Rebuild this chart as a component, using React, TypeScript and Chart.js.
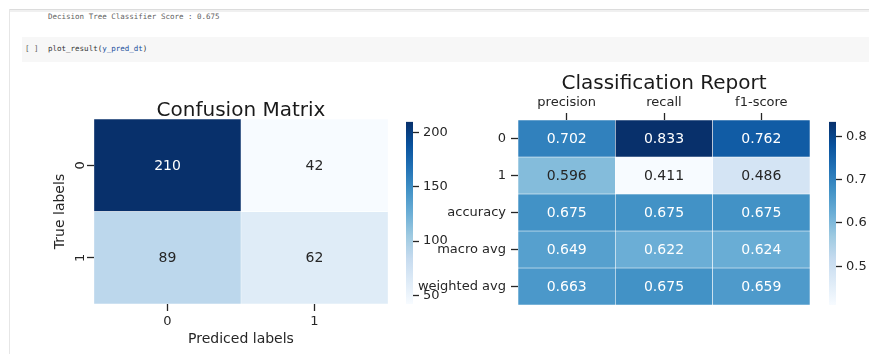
import React, { useEffect, useRef } from 'react';
import { Chart, registerables } from 'chart.js';

Chart.register(...registerables);

// ---------------- data ----------------
const cmRowLabels = ['0', '1'];
const cmColLabels = ['0', '1'];
const cmRow0 = [210, 42];
const cmRow1 = [89, 62];
const cmColorbarTicks = [50, 100, 150, 200];

const crRowLabels = ['0', '1', 'accuracy', 'macro avg', 'weighted avg'];
const crColLabels = ['precision', 'recall', 'f1-score'];
const crRow0 = [0.702, 0.833, 0.762];
const crRow1 = [0.596, 0.411, 0.486];
const crAccuracy = [0.675, 0.675, 0.675];
const crMacroAvg = [0.649, 0.622, 0.624];
const crWeightedAvg = [0.663, 0.675, 0.659];
const crColorbarTicks = [0.5, 0.6, 0.7, 0.8];

// ---------------- styling helpers ----------------
const FONT = "'DejaVu Sans', 'Noto Sans', sans-serif";
const TXT = '#262626';
const BLUES = ['#f7fbff', '#deebf7', '#c6dbef', '#9ecae1', '#6baed6', '#4292c6', '#2171b5', '#08519c', '#08306b'];

function hexToRgb(h: string): number[] {
  const n = parseInt(h.slice(1), 16);
  return [(n >> 16) & 255, (n >> 8) & 255, n & 255];
}
function bluesRgb(t: number): number[] {
  const tt = Math.max(0, Math.min(1, t));
  const p = tt * 8;
  const i = Math.min(7, Math.floor(p));
  const f = p - i;
  const a = hexToRgb(BLUES[i]);
  const b = hexToRgb(BLUES[i + 1]);
  return a.map((v, k) => Math.round(v + (b[k] - v) * f));
}
function rgbStr(c: number[]) {
  return `rgb(${c[0]},${c[1]},${c[2]})`;
}
function luminance(c: number[]) {
  const l = c.map((v) => {
    const s = v / 255;
    return s <= 0.03928 ? s / 12.92 : Math.pow((s + 0.055) / 1.055, 2.4);
  });
  return 0.2126 * l[0] + 0.7152 * l[1] + 0.0722 * l[2];
}

type Box = { left: number; top: number; width: number; height: number };
type Area = { left: number; top: number; right: number; bottom: number };

type HeatProps = {
  rows: string[];
  cols: string[];
  values: number[][];
  fmt: (v: number) => string;
  title: string;
  titleBaseline: number; // page y
  xPos: 'top' | 'bottom';
  xTitle?: string;
  yTitle?: string;
  rotateY: boolean;
  box: Box;
  area: Area;
  lineW: number;
};

function Heatmap(p: HeatProps) {
  const ref = useRef<HTMLCanvasElement>(null);
  useEffect(() => {
    const { rows, cols, values, fmt, box, area, xPos } = p;
    const flat = values.flat();
    const vmin = Math.min(...flat);
    const vmax = Math.max(...flat);
    const colorOf = (v: number) => bluesRgb((v - vmin) / (vmax - vmin));
    const yAxisW = area.left - box.left;
    let padTop: number, padBottom: number, xAxisH: number;
    if (xPos === 'bottom') {
      padTop = area.top - box.top;
      xAxisH = box.top + box.height - area.bottom;
      padBottom = 0;
    } else {
      xAxisH = 30;
      padTop = area.top - box.top - xAxisH;
      padBottom = box.top + box.height - area.bottom;
    }
    const padRight = box.left + box.width - area.right;

    const datasets = rows.map((r, ri) => ({
      label: r,
      data: cols.map(() => [ri, ri + 1]),
      backgroundColor: cols.map((_, ci) => rgbStr(colorOf(values[ri][ci]))),
      borderColor: 'rgba(255,255,255,0.85)',
      borderWidth: p.lineW,
      borderSkipped: false,
      barPercentage: 1,
      categoryPercentage: 1,
      grouped: false,
    }));

    const annot = {
      id: 'annot',
      afterDatasetsDraw(chart: any) {
        const ctx = chart.ctx;
        ctx.save();
        ctx.font = `14px ${FONT}`;
        ctx.textAlign = 'center';
        ctx.textBaseline = 'middle';
        rows.forEach((_, ri) => {
          const meta = chart.getDatasetMeta(ri);
          meta.data.forEach((bar: any, ci: number) => {
            const { x, y, base } = bar.getProps(['x', 'y', 'base'], true);
            const v = values[ri][ci];
            const c = colorOf(v);
            ctx.fillStyle = luminance(c) > 0.408 ? TXT : '#ffffff';
            ctx.fillText(fmt(v), x, (y + base) / 2 + 1);
          });
        });
        ctx.restore();
      },
      afterDraw(chart: any) {
        const ctx = chart.ctx;
        const ca = chart.chartArea;
        ctx.save();
        ctx.font = `20px ${FONT}`;
        ctx.fillStyle = '#1a1a1a';
        ctx.textAlign = 'center';
        ctx.textBaseline = 'alphabetic';
        ctx.fillText(p.title, (ca.left + ca.right) / 2, p.titleBaseline - box.top);
        if (p.rotateY) {
          const ys = chart.scales.y;
          ctx.font = `13px ${FONT}`;
          ctx.fillStyle = TXT;
          rows.forEach((r, ri) => {
            const py = ys.getPixelForValue(ri + 0.5);
            ctx.save();
            ctx.translate(ca.left - 10, py);
            ctx.rotate(-Math.PI / 2);
            ctx.textAlign = 'center';
            ctx.textBaseline = 'alphabetic';
            ctx.fillText(r, 0, 0);
            ctx.restore();
          });
        }
        ctx.restore();
      },
    };

    const chart = new Chart(ref.current as HTMLCanvasElement, {
      type: 'bar',
      data: { labels: cols, datasets: datasets as any },
      options: {
        responsive: false,
        animation: false,
        events: [],
        layout: { padding: { left: 0, top: padTop, right: padRight, bottom: padBottom } },
        plugins: { legend: { display: false }, tooltip: { enabled: false }, title: { display: false } },
        scales: {
          x: {
            type: 'category',
            position: xPos,
            offset: true,
            grid: {
              offset: false,
              drawOnChartArea: false,
              drawTicks: true,
              tickLength: 7,
              tickWidth: 1.3,
              tickColor: TXT,
            },
            border: { display: false },
            ticks: {
              color: TXT,
              font: { family: FONT, size: 13 },
              padding: 3,
              autoSkip: false,
              maxRotation: 0,
              minRotation: 0,
            },
            title: p.xTitle
              ? {
                  display: true,
                  text: p.xTitle,
                  color: TXT,
                  font: { family: FONT, size: 14 },
                  padding: { top: 0, bottom: 6.6 },
                }
              : { display: false },
            afterFit: (s: any) => {
              s.height = xAxisH;
            },
          },
          y: {
            type: 'linear',
            min: 0,
            max: rows.length,
            reverse: true,
            afterBuildTicks: (s: any) => {
              s.ticks = rows.map((_, i) => ({ value: i + 0.5 }));
            },
            grid: {
              drawOnChartArea: false,
              drawTicks: true,
              tickLength: 7,
              tickWidth: 1.3,
              tickColor: TXT,
            },
            border: { display: false },
            ticks: {
              color: TXT,
              font: { family: FONT, size: 13 },
              padding: 5,
              autoSkip: false,
              callback: (v: any) => (p.rotateY ? '' : rows[Math.floor(Number(v))]),
            },
            title: p.yTitle
              ? {
                  display: true,
                  text: p.yTitle,
                  color: TXT,
                  font: { family: FONT, size: 14 },
                  padding: { top: 21.6, bottom: 0 },
                }
              : { display: false },
            afterFit: (s: any) => {
              s.width = yAxisW;
            },
          },
        },
      } as any,
      plugins: [annot],
    });
    return () => chart.destroy();
  }, []);
  return (
    <canvas
      ref={ref}
      width={p.box.width}
      height={p.box.height}
      style={{ position: 'absolute', left: p.box.left, top: p.box.top, width: p.box.width, height: p.box.height }}
    />
  );
}

type CbProps = {
  values: number[][];
  ticks: number[];
  fmt: (v: number) => string;
  box: Box;
  area: Area;
};

function Colorbar(p: CbProps) {
  const ref = useRef<HTMLCanvasElement>(null);
  useEffect(() => {
    const { box, area } = p;
    const flat = p.values.flat();
    const vmin = Math.min(...flat);
    const vmax = Math.max(...flat);
    const axisW = box.left + box.width - area.right;
    const chart = new Chart(ref.current as HTMLCanvasElement, {
      type: 'bar',
      data: {
        labels: [''],
        datasets: [
          {
            data: [[vmin, vmax]],
            backgroundColor: (c: any) => {
              const ca = c.chart.chartArea;
              if (!ca) return BLUES[4];
              const g = c.chart.ctx.createLinearGradient(0, ca.bottom, 0, ca.top);
              BLUES.forEach((col, i) => g.addColorStop(i / 8, col));
              return g;
            },
            borderWidth: 0,
            barPercentage: 1,
            categoryPercentage: 1,
          },
        ],
      } as any,
      options: {
        responsive: false,
        animation: false,
        events: [],
        layout: {
          padding: {
            left: area.left - box.left,
            top: area.top - box.top,
            right: 0,
            bottom: box.top + box.height - area.bottom,
          },
        },
        plugins: { legend: { display: false }, tooltip: { enabled: false } },
        scales: {
          x: { display: false },
          y: {
            type: 'linear',
            position: 'right',
            min: vmin,
            max: vmax,
            afterBuildTicks: (s: any) => {
              s.ticks = p.ticks.map((v) => ({ value: v }));
            },
            grid: {
              drawOnChartArea: false,
              drawTicks: true,
              tickLength: 6,
              tickWidth: 1.3,
              tickColor: TXT,
            },
            border: { display: false },
            ticks: {
              color: TXT,
              font: { family: FONT, size: 13 },
              padding: 4,
              autoSkip: false,
              callback: (v: any) => p.fmt(Number(v)),
            },
            afterFit: (s: any) => {
              s.width = axisW;
            },
          },
        },
      } as any,
    });
    return () => chart.destroy();
  }, []);
  return (
    <canvas
      ref={ref}
      width={p.box.width}
      height={p.box.height}
      style={{ position: 'absolute', left: p.box.left, top: p.box.top, width: p.box.width, height: p.box.height }}
    />
  );
}

export default function App() {
  const cmValues = [cmRow0, cmRow1];
  const crValues = [crRow0, crRow1, crAccuracy, crMacroAvg, crWeightedAvg];
  const mono = "'DejaVu Sans Mono', 'Liberation Mono', monospace";
  return (
    <div
      style={{
        position: 'fixed',
        left: 0,
        top: 0,
        width: 869,
        height: 354,
        background: '#ffffff',
        overflow: 'hidden',
      }}
    >
      {/* notebook chrome */}
      <div style={{ position: 'absolute', left: 9, top: 9, width: 860, height: 1, background: '#dcdcdc' }} />
      <div style={{ position: 'absolute', left: 9, top: 10, width: 860, height: 2, background: '#f0f0f0' }} />
      <div style={{ position: 'absolute', left: 9, top: 9, width: 1, height: 345, background: '#e6e6e6' }} />
      <div
        style={{
          position: 'absolute',
          left: 48,
          top: 12,
          font: `7.5px ${mono}`,
          color: '#616161',
          whiteSpace: 'pre',
          lineHeight: '10px',
        }}
      >
        Decision Tree Classifier Score : 0.675
      </div>
      <div style={{ position: 'absolute', left: 22, top: 37, width: 847, height: 25, background: '#f7f7f7' }} />
      <div
        style={{
          position: 'absolute',
          left: 25,
          top: 44,
          font: `7.5px ${mono}`,
          color: '#616161',
          whiteSpace: 'pre',
          lineHeight: '10px',
        }}
      >
        [ ]
      </div>
      <div
        style={{
          position: 'absolute',
          left: 48,
          top: 44,
          font: `7.5px ${mono}`,
          color: '#333333',
          whiteSpace: 'pre',
          lineHeight: '10px',
        }}
      >
        plot_result(<span style={{ color: '#1a4f9c' }}>y_pred_dt</span>)
      </div>

      {/* confusion matrix */}
      <Heatmap
        rows={cmRowLabels}
        cols={cmColLabels}
        values={cmValues}
        fmt={(v) => String(v)}
        title="Confusion Matrix"
        titleBaseline={116}
        xPos="bottom"
        xTitle="Prediced labels"
        yTitle="True labels"
        rotateY={true}
        box={{ left: 30, top: 85, width: 370, height: 269 }}
        area={{ left: 94, top: 119, right: 388, bottom: 304 }}
        lineW={0.5}
      />
      <Colorbar
        values={cmValues}
        ticks={cmColorbarTicks}
        fmt={(v) => String(v)}
        box={{ left: 400, top: 110, width: 60, height: 210 }}
        area={{ left: 406, top: 119, right: 413, bottom: 304 }}
      />

      {/* classification report */}
      <Heatmap
        rows={crRowLabels}
        cols={crColLabels}
        values={crValues}
        fmt={(v) => v.toFixed(3)}
        title="Classification Report"
        titleBaseline={89}
        xPos="top"
        rotateY={false}
        box={{ left: 400, top: 60, width: 420, height: 265 }}
        area={{ left: 518, top: 120, right: 810, bottom: 305 }}
        lineW={0.6}
      />
      <Colorbar
        values={crValues}
        ticks={crColorbarTicks}
        fmt={(v) => v.toFixed(1)}
        box={{ left: 820, top: 110, width: 49, height: 210 }}
        area={{ left: 829, top: 120, right: 836, bottom: 305 }}
      />
    </div>
  );
}
